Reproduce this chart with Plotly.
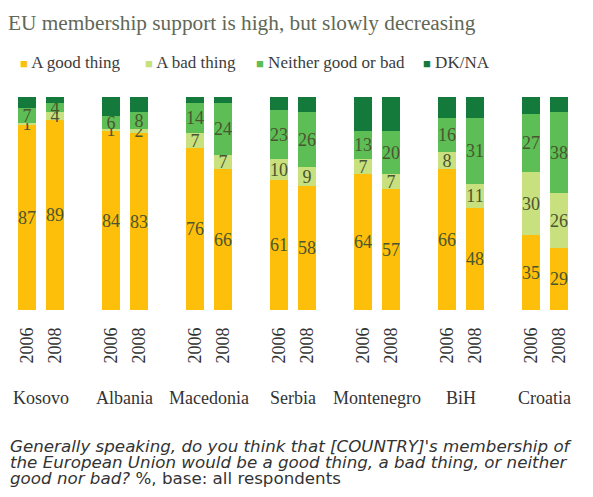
import plotly.graph_objects as go

countries = ["Kosovo", "Albania", "Macedonia", "Serbia", "Montenegro", "BiH", "Croatia"]
years = ["2006", "2008"]
series_names = ["A good thing", "A bad thing", "Neither good or bad", "DK/NA"]

good = [87, 89, 84, 83, 76, 66, 61, 58, 64, 57, 66, 48, 35, 29]
bad = [1, 4, 1, 2, 7, 7, 10, 9, 7, 7, 8, 11, 30, 26]
neither = [7, 4, 6, 8, 14, 24, 23, 26, 13, 20, 16, 31, 27, 38]
dkna = [5, 3, 9, 7, 3, 3, 6, 7, 16, 16, 10, 10, 8, 7]

colors = ["#FDBF0A", "#C9E07E", "#5DBE55", "#147A3B"]
show_labels = [True, True, True, False]

SERIF = "Liberation Serif"

# positions: each country group has two bars and a gap slot
xpos = [ci * 3 + yi for ci in range(len(countries)) for yi in range(len(years))]
xyears = [years[yi] for ci in range(len(countries)) for yi in range(len(years))]

fig = go.Figure()
for name, vals, col, lab in zip(series_names, [good, bad, neither, dkna], colors, show_labels):
    fig.add_trace(go.Bar(
        x=xpos, y=vals, name=name, width=0.64,
        marker=dict(color=col, line=dict(width=0)),
        text=[str(v) for v in vals] if lab else None,
        textposition="inside" if lab else "none",
        insidetextanchor="middle",
        textangle=0,
        textfont=dict(family=SERIF, size=18, color="#4a5530"),
        constraintext="none",
        hoverinfo="skip",
        showlegend=False,
    ))

# legend built as text items
leg_x = [0.0137, 0.229, 0.420, 0.707]
for name, col, lx in zip(series_names, colors, leg_x):
    fig.add_annotation(x=lx, y=1.164, xref="paper", yref="paper", xanchor="left", yanchor="middle",
                       showarrow=False,
                       text=f'<span style="color:{col};font-size:13px">■</span> {name}',
                       font=dict(family=SERIF, size=17, color="#3c3c3c"))

for ci, c in enumerate(countries):
    fig.add_annotation(x=ci * 3 + 0.5, y=-0.413, xref="x", yref="paper", text=c,
                       yanchor="middle", showarrow=False,
                       font=dict(family=SERIF, size=18, color="#333333"))

foot_lines = [
    "<i>Generally speaking, do you think that [COUNTRY]'s membership of</i>",
    "<i>the European Union would be a good thing, a bad thing, or neither</i>",
    "<i>good nor bad? </i>%, base: all respondents",
]
for k, (ln, fy) in enumerate(zip(foot_lines, [-0.638, -0.714, -0.789])):
    fig.add_annotation(x=-0.003, xref="paper", y=fy, yref="paper", xanchor="left", yanchor="middle",
                       align="left", showarrow=False, text=ln,
                       font=dict(family="DejaVu Sans", size=16.7, color="#333333"))

fig.update_layout(
    width=585, height=489,
    barmode="stack",
    bargap=0,
    plot_bgcolor="white", paper_bgcolor="white",
    margin=dict(l=2, r=2, t=89, b=187),
    title=dict(text="EU membership support is high, but slowly decreasing",
               x=0.0, xref="container", xanchor="left", y=0.985, yref="container", yanchor="top",
               font=dict(family=SERIF, size=21.3, color="#5f6856")),
    showlegend=False,
    xaxis=dict(range=[-0.6, 20.15], tickmode="array", tickvals=xpos, ticktext=xyears,
               tickangle=-90, showgrid=False, zeroline=False, showline=False, ticks="",
               ticklabelstandoff=13,
               tickfont=dict(family=SERIF, size=18, color="#333333")),
    yaxis=dict(range=[0, 100], visible=False),
)

fig.write_html("out.html")
